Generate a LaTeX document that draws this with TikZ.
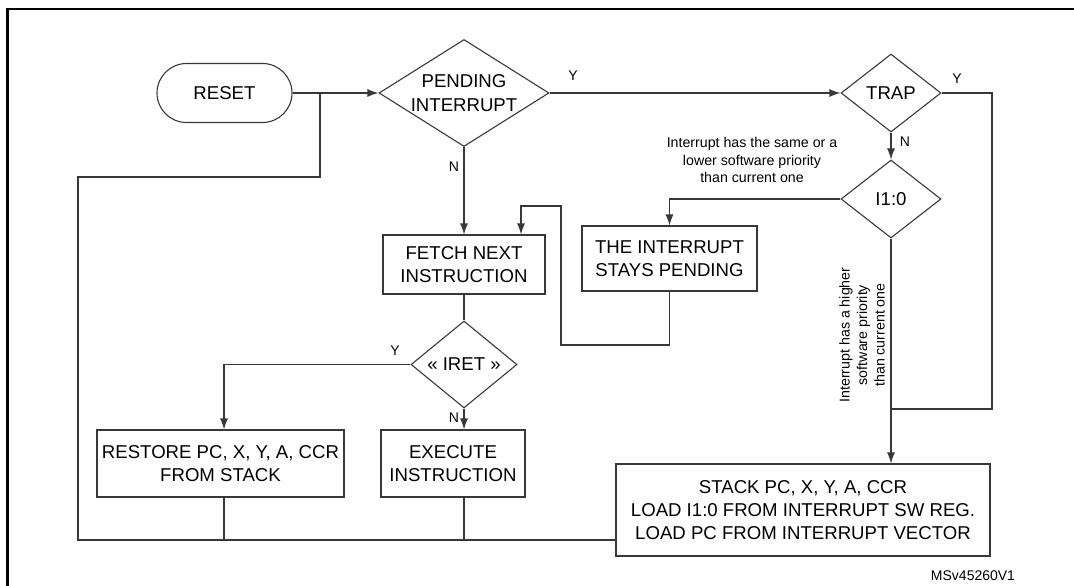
\documentclass[tikz,border=0pt]{standalone}
\usepackage{fontspec}
\setmainfont{Liberation Sans}
\usetikzlibrary{shapes.geometric,arrows.meta}
\newcommand\fbig{\fontsize{18.6}{23.2}\selectfont}
\newcommand\fsml{\fontsize{14.2}{17.5}\selectfont}
\newcommand\flab{\fontsize{14}{16}\selectfont}
\begin{document}
\begin{tikzpicture}[x=1pt,y=-1pt,
  ln/.style={line width=1.1pt, draw=black!78},
  arr/.style={ln, -{Latex[length=11pt,width=8pt]}},
  box/.style={draw=black!78, line width=1.1pt, rectangle, inner sep=0pt, align=center, font=\fbig},
  dia/.style={draw=black!78, line width=1.1pt, diamond, inner sep=0pt, align=center, font=\fbig},
  lbl/.style={inner sep=0pt, font=\flab},
  note/.style={inner sep=0pt, align=center, font=\fsml}]
\useasboundingbox (0,0) rectangle (1074,586);
% outer frame
\coordinate (fb) at (7.5,586);
\coordinate (fc) at (7.5,9);
\coordinate (fr) at (1074,9);
\draw[line width=2.3pt] (fb) -- (fc) -- (fr);
% nodes
\node[box, rounded corners=29.5pt, minimum width=135, minimum height=59] (reset) at (224.5,93) {RESET};
\node[dia, aspect=1.59, minimum width=170, minimum height=107] (pend) at (464,93) {PENDING\\INTERRUPT};
\node[dia, aspect=1.28, minimum width=100, minimum height=78] (trap) at (891,93) {TRAP};
\node[dia, aspect=1.28, minimum width=100, minimum height=78] (iz) at (891,199) {I1:0};
\node[box, minimum width=162, minimum height=59] (fetch) at (464,264.5) {FETCH NEXT\\INSTRUCTION};
\node[box, minimum width=175, minimum height=65] (stays) at (669.5,258.5) {THE INTERRUPT\\STAYS PENDING};
\node[dia, aspect=1.22, minimum width=106, minimum height=87] (iret) at (464,364.5) {« IRET »};
\node[box, minimum width=247, minimum height=67] (restore) at (220.5,463.5) {RESTORE PC, X, Y, A, CCR\\FROM STACK};
\node[box, minimum width=144, minimum height=67] (exec) at (453,463.5) {EXECUTE\\INSTRUCTION};
\node[box, minimum width=374, minimum height=92] (stack) at (803,510) {STACK PC, X, Y, A, CCR\\LOAD I1:0 FROM INTERRUPT SW REG.\\LOAD PC FROM INTERRUPT VECTOR};
% helper coordinates
\coordinate (j1) at (320,93);
\coordinate (j2) at (78,177);
\coordinate (lb) at (78,540);
\coordinate (tr) at (992,409);
\coordinate (lp1) at (561,345);
\coordinate (lp2) at (521,206);
\coordinate (rx) at (224,0);
% connectors
\draw[arr] (reset.east) -- (pend.west);
\draw[ln] (j1) |- (j2) -- (lb) -- (lb -| stack.west);
\draw[ln] (restore.south -| rx) -- (lb -| rx);
\draw[ln] (exec.south -| iret.south) -- (lb -| iret.south);
\draw[arr] (pend.south) -- (fetch.north);
\draw[ln] (fetch.south) -- (iret.north);
\draw[arr] (iret.west) -| (restore.north -| rx);
\draw[arr] (iret.south) -- (iret.south |- exec.north);
\draw[arr] (pend.east) -- (trap.west);
\draw[ln] (trap.east) -| (tr) -- (tr -| iz.south);
\draw[arr] (trap.south) -- (iz.north);
\draw[arr] (iz.south) -- (iz.south |- stack.north);
\draw[arr] (iz.west) -| (stays.north);
\draw[arr] (stays.south) |- (lp1) |- (lp2) -- (lp2 |- fetch.north);
% labels
\node[lbl] (ly1) at (573,76) {Y};
\node[lbl] (ln1) at (454,167) {N};
\node[lbl] (ly2) at (957,79) {Y};
\node[lbl] (ln2) at (905,142) {N};
\node[lbl] (ly3) at (395,351) {Y};
\node[lbl] (ln3) at (454,418) {N};
\node[note] (low) at (752,160) {Interrupt has the same or a\\lower software priority\\than current one};
\node[note, rotate=90] (high) at (862,335) {Interrupt has a higher\\software priority\\than current one};
\node[lbl] (ref) at (973,576) {MSv45260V1};
\end{tikzpicture}
\end{document}
